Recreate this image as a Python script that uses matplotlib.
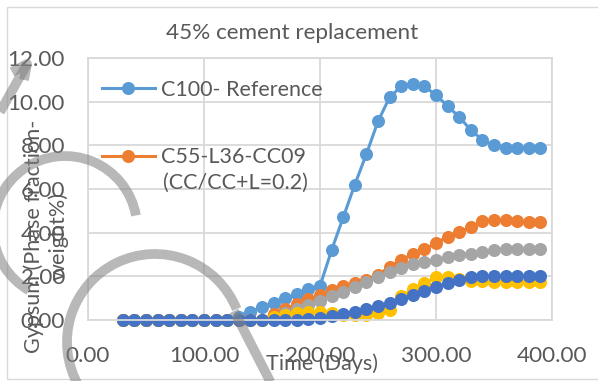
import matplotlib
matplotlib.use("Agg")
import matplotlib.pyplot as plt
from matplotlib.patches import Arc, Rectangle
from matplotlib.ticker import FormatStrFormatter

# ---------------- data ----------------
days = [30, 40, 50, 60, 70, 80, 90, 100, 110, 120,
        130, 140, 150, 160, 170, 180, 190, 200, 210, 220,
        230, 240, 250, 260, 270, 280, 290, 300, 310, 320,
        330, 340, 350, 360, 370, 380, 390]

c100_ref = [0, 0, 0, 0, 0, 0, 0, 0, 0, 0.02,
            0.15, 0.38, 0.6, 0.8, 1.0, 1.18, 1.4, 1.55, 3.2, 4.7,
            6.2, 7.6, 9.1, 10.2, 10.7, 10.8, 10.7, 10.3, 9.8, 9.3,
            8.7, 8.25, 8.0, 7.9, 7.9, 7.9, 7.9]

c55_l36_cc09 = [0, 0, 0, 0, 0, 0, 0, 0, 0, 0,
                0, 0, 0, 0.27, 0.5, 0.72, 0.95, 1.14, 1.37, 1.55,
                1.7, 1.85, 2.05, 2.45, 2.74, 3.04, 3.23, 3.53, 3.8, 4.03,
                4.26, 4.53, 4.6, 4.58, 4.53, 4.5, 4.48]

series_gray = [0, 0, 0, 0, 0, 0, 0, 0, 0, 0,
               0, 0, 0, 0.1, 0.3, 0.5, 0.68, 0.88, 1.08, 1.3,
               1.52, 1.75, 1.98, 2.22, 2.38, 2.55, 2.66, 2.75, 2.88, 2.97,
               3.04, 3.12, 3.2, 3.23, 3.25, 3.27, 3.26]

series_yellow = [0, 0, 0, 0, 0, 0, 0, 0, 0, 0,
                 0, 0, 0, 0.15, 0.25, 0.3, 0.35, 0.35, 0.3, 0.25,
                 0.22, 0.25, 0.3, 0.45, 1.1, 1.4, 1.68, 1.95, 1.95, 1.88,
                 1.8, 1.78, 1.76, 1.75, 1.75, 1.74, 1.74]

series_darkblue = [0, 0, 0, 0, 0, 0, 0, 0, 0, 0,
                   0, 0, 0, 0, 0, 0.02, 0.05, 0.1, 0.18, 0.27,
                   0.38, 0.5, 0.65, 0.8, 0.97, 1.14, 1.35, 1.52, 1.68, 1.83,
                   1.97, 2.0, 2.0, 2.0, 2.0, 2.0, 2.03]

legend_labels = ["C100- Reference", "C55-L36-CC09"]
legend_label2_extra = "(CC/CC+L=0.2)"
title = "45% cement replacement"
xlabel = "Time (Days)"
ylabel = "Gypsum (Phase fraction-\nweight%)"
xticks = [0, 100, 200, 300, 400]
yticks = [0, 2, 4, 6, 8, 10, 12]

# ---------------- style ----------------
FONT = ["Lato", "DejaVu Sans"]
TXT = "#595959"
GRID = "#D9D9D9"
colors = ["#5B9BD5", "#ED7D31", "#A5A5A5", "#FFC000", "#4472C4"]
W, H = 598, 381
plt.rcParams["font.family"] = FONT
FS_TICK = 16.2
FS_TITLE = 16.2
FS_LEG = 15.5
FS_LAB = 15.6

fig = plt.figure(figsize=(W / 100, H / 100), dpi=100)
fig.patch.set_facecolor("white")

# chart-area border
fig.patches.append(Rectangle((7 / W, 2 / H), 1.0, (H - 9) / H, transform=fig.transFigure,
                             fill=False, edgecolor=GRID, linewidth=1.0))

ax = fig.add_axes([88 / W, (H - 320) / H, (552 - 88) / W, (320 - 58) / H])
ax.set_xlim(0, 400)
ax.set_ylim(0, 12)
ax.set_xticks(xticks)
ax.set_yticks(yticks)
ax.xaxis.set_major_formatter(FormatStrFormatter("%.2f"))
ax.yaxis.set_major_formatter(FormatStrFormatter("%.2f"))
ax.grid(True, color=GRID, linewidth=1.3)
ax.set_axisbelow(True)
for s in ax.spines.values():
    s.set_color(GRID)
    s.set_linewidth(1.3)
ax.tick_params(length=0, labelsize=FS_TICK, labelcolor=TXT)
ax.tick_params(axis="y", pad=16.5)
ax.tick_params(axis="x", pad=18.5)

all_series = [c100_ref, c55_l36_cc09, series_gray, series_yellow, series_darkblue]
lines = []
for vals, col in zip(all_series, colors):
    ln, = ax.plot(days, vals, color=col, linewidth=2.2, marker="o", markersize=9.4,
                  markeredgewidth=0, clip_on=False)
    lines.append(ln)

leg = ax.legend(lines[:2], legend_labels, loc="upper left",
                bbox_to_anchor=(102 / W, 1 - 80 / H), bbox_transform=fig.transFigure,
                frameon=False, fontsize=FS_LEG, labelcolor=TXT, handlelength=2.45,
                handletextpad=0.3, labelspacing=2.2, borderpad=0, borderaxespad=0)
fig.text(163 / W, 1 - 183 / H, legend_label2_extra, fontsize=FS_LEG, color=TXT,
         ha="left", va="center")

fig.text(292 / W, 1 - 33 / H, title, fontsize=FS_TITLE, color=TXT, ha="center", va="center")
ax.set_xlabel(xlabel, fontsize=FS_LAB, color=TXT, va="center")
ax.xaxis.set_label_coords(0.5 + 2 / 464, -(364 - 320) / 262)
ax.set_ylabel(ylabel, fontsize=FS_LAB, color=TXT, va="center", ha="center",
              multialignment="center", linespacing=1.2)
ax.yaxis.set_label_coords(-(88 - 46) / 464, 1 - (236 - 58) / 262)

# ---------------- gray overlay strokes ----------------
ov = fig.add_axes([0, 0, 1, 1], zorder=10)
ov.set_xlim(0, W)
ov.set_ylim(H, 0)
ov.axis("off")
ov.patch.set_alpha(0)
SC, SA, SW = "#7F7F7F", 0.55, 7
# "C" arc at left
ov.add_patch(Arc((65, 228), 144, 144, theta1=120, theta2=350,
                 edgecolor=SC, alpha=SA, linewidth=SW))
# large circle at bottom with tail
ov.add_patch(Arc((155, 342), 176, 176, theta1=150, theta2=338,
                 edgecolor=SC, alpha=SA, linewidth=SW))
ov.plot([234, 272], [311, 385], color=SC, alpha=SA, linewidth=SW, solid_capstyle="butt")
# top-left arrow stroke
ov.plot([0, 27], [112, 64], color=SC, alpha=SA, linewidth=SW, solid_capstyle="butt")
ov.plot([12, 27, 24], [72, 64, 80], color=SC, alpha=SA, linewidth=SW, solid_capstyle="butt")

fig.savefig("out.png", dpi=100)
